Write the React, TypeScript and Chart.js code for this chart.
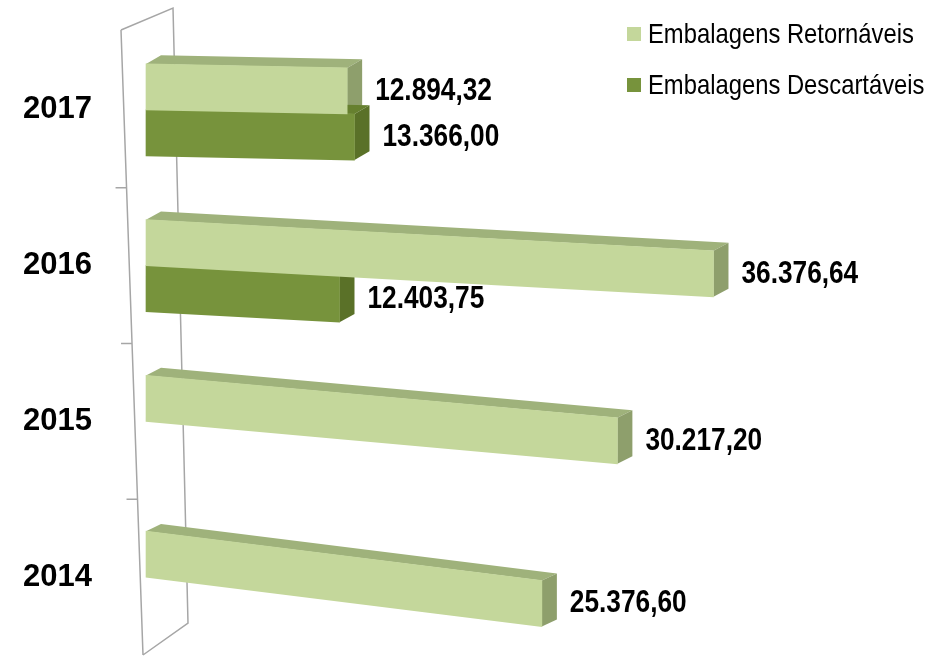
import React, { useEffect, useRef } from "react";
import { Chart, registerables } from "chart.js";

Chart.register(...registerables);

const years = ["2017", "2016", "2015", "2014"];
const retornaveis = [12894.32, 36376.64, 30217.2, 25376.6];
const descartaveis: (number | null)[] = [13366.0, 12403.75, null, null];
const seriesNames = ["Embalagens Retornáveis", "Embalagens Descartáveis"];

const FONT = "'Liberation Sans', Arial, sans-serif";
const NARROW = 0.82;
const LIGHT = { front: "#c4d79b", top: "#9fb27b", side: "#8e9f6c" };
const DARK = { front: "#77933c", top: "#66802f", side: "#5a7128" };
const S_TOP = 0.02; // perspective slant of the top row
const S_BOTTOM = 0.125; // perspective slant of the bottom row
const DX = 15;
const DY = -9;

function fmt(v: number): string {
  const [i, d] = v.toFixed(2).split(".");
  return i.replace(/\B(?=(\d{3})+(?!\d))/g, ".") + "," + d;
}

function slantFor(index: number, count: number): number {
  return S_TOP + ((S_BOTTOM - S_TOP) * index) / Math.max(1, count - 1);
}

const threeD = {
  id: "threeD",
  beforeDatasetDraw() {
    return false; // bars are drawn (by their own elements) in beforeDatasetsDraw
  },
  beforeDatasetsDraw(chart: any) {
    const ctx = chart.ctx as CanvasRenderingContext2D;
    const { left, top, bottom } = chart.chartArea;
    const yScale = chart.scales.y;

    // 3D wall outline
    ctx.save();
    ctx.strokeStyle = "#a6a6a6";
    ctx.lineWidth = 1.5;
    const fTop = { x: left - 25, y: top - 2 };
    const fBot = { x: left - 3, y: bottom };
    const bTop = { x: left + 27, y: top - 24 };
    const bBot = { x: left + 42, y: bottom - 32 };
    ctx.beginPath();
    ctx.moveTo(fTop.x, fTop.y);
    ctx.lineTo(fBot.x, fBot.y);
    ctx.moveTo(fTop.x, fTop.y);
    ctx.lineTo(bTop.x, bTop.y);
    ctx.lineTo(bBot.x, bBot.y);
    ctx.lineTo(fBot.x, fBot.y);
    for (let i = 0; i < years.length - 1; i++) {
      const y = yScale.getPixelForValue(i + 0.5);
      const t = (y - fTop.y) / (fBot.y - fTop.y);
      const x = fTop.x + t * (fBot.x - fTop.x);
      ctx.moveTo(x - 11, y);
      ctx.lineTo(x, y);
    }
    ctx.stroke();
    ctx.restore();

    const palettes = [LIGHT, DARK];
    const metas = [chart.getDatasetMeta(0), chart.getDatasetMeta(1)];
    for (let idx = 0; idx < years.length; idx++) {
      const s = slantFor(idx, years.length);
      ctx.save();
      ctx.transform(1, s, 0, 1, 0, -s * left);
      // side and top faces, upper series first
      [0, 1].forEach((di) => {
        const raw = chart.data.datasets[di].data[idx];
        if (raw === null || raw === undefined) return;
        const el = metas[di].data[idx];
        const pal = palettes[di];
        const p = el.getProps(["x", "y", "base", "height"], true);
        const t = p.y - p.height / 2;
        const b = p.y + p.height / 2;
        const end = p.x;
        const base = p.base;
        ctx.fillStyle = pal.top;
        ctx.beginPath();
        ctx.moveTo(base, t);
        ctx.lineTo(end, t);
        ctx.lineTo(end + DX, t + DY);
        ctx.lineTo(base + DX, t + DY);
        ctx.closePath();
        ctx.fill();
        ctx.fillStyle = pal.side;
        ctx.beginPath();
        ctx.moveTo(end, t);
        ctx.lineTo(end, b);
        ctx.lineTo(end + DX, b + DY);
        ctx.lineTo(end + DX, t + DY);
        ctx.closePath();
        ctx.fill();
      });
      // front faces, drawn by the bar elements themselves
      [1, 0].forEach((di) => {
        const raw = chart.data.datasets[di].data[idx];
        if (raw === null || raw === undefined) return;
        metas[di].data[idx].draw(ctx);
      });
      ctx.restore();
    }
  },
  afterDatasetsDraw(chart: any) {
    const ctx = chart.ctx as CanvasRenderingContext2D;
    const { left } = chart.chartArea;
    [0, 1].forEach((di) => {
      const meta = chart.getDatasetMeta(di);
      meta.data.forEach((el: any, idx: number) => {
        const raw = chart.data.datasets[di].data[idx];
        if (raw === null || raw === undefined) return;
        const s = slantFor(idx, years.length);
        const p = el.getProps(["x", "y"], true);
        const y = p.y + s * (p.x - left);
        ctx.save();
        ctx.translate(p.x + 28, y);
        ctx.scale(NARROW, 1);
        ctx.font = "bold 32px " + FONT;
        ctx.fillStyle = "#000000";
        ctx.textAlign = "left";
        ctx.textBaseline = "middle";
        ctx.fillText(fmt(raw), 0, 0);
        ctx.restore();
      });
    });
  },
};

export default function App() {
  const ref = useRef<HTMLCanvasElement | null>(null);
  useEffect(() => {
    document.body.style.margin = "0";
    if (!ref.current) return;
    const chart = new Chart(ref.current, {
      type: "bar",
      data: {
        labels: years,
        datasets: [
          {
            label: seriesNames[0],
            data: retornaveis,
            backgroundColor: LIGHT.front,
            borderWidth: 0,
            barThickness: 46,
          } as any,
          {
            label: seriesNames[1],
            data: descartaveis,
            backgroundColor: DARK.front,
            borderWidth: 0,
            barThickness: 46,
          } as any,
        ],
      },
      options: {
        indexAxis: "y",
        animation: false,
        responsive: false,
        layout: { padding: { top: 32, bottom: 2, right: 158, left: 0 } },
        plugins: {
          legend: { display: false },
          tooltip: { enabled: false },
        },
        scales: {
          x: { display: false, min: 0, max: 40000 },
          y: {
            grid: { display: false, drawTicks: false },
            border: { display: false },
            ticks: {
              color: "#000000",
              font: { family: FONT, size: 31, weight: "bold" },
              padding: 54,
            },
            afterFit(scale: any) {
              scale.width = 146;
              scale.paddingTop = 0;
              scale.paddingBottom = 0;
            },
          },
        },
      },
      plugins: [threeD],
    });
    return () => chart.destroy();
  }, []);

  const legendItem = (color: string, text: string, top: number) => (
    <div
      style={{
        position: "absolute",
        left: 627,
        top: top,
        height: 30,
        display: "flex",
        alignItems: "center",
        fontFamily: FONT,
        fontSize: 28,
        color: "#000",
        whiteSpace: "nowrap",
      }}
    >
      <span style={{ display: "inline-block", width: 14, height: 14, background: color, marginRight: 7 }} />
      <span style={{ display: "inline-block", transform: `scaleX(${NARROW + 0.03})`, transformOrigin: "left center" }}>
        {text}
      </span>
    </div>
  );

  return (
    <div style={{ position: "relative", width: 928, height: 657 }}>
      <canvas ref={ref} width={928} height={657} style={{ display: "block" }} />
      {legendItem(LIGHT.front, seriesNames[0], 19)}
      {legendItem(DARK.front, seriesNames[1], 70)}
    </div>
  );
}
